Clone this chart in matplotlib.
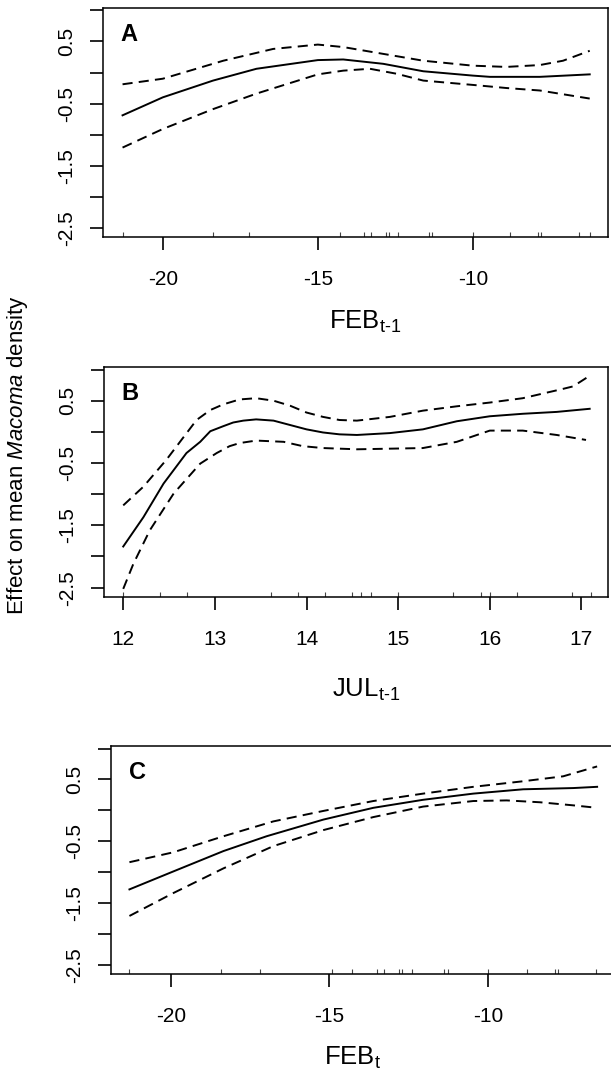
import numpy as np
import matplotlib
matplotlib.use('Agg')
import matplotlib.pyplot as plt

plt.rcParams['font.family'] = ['Liberation Sans', 'DejaVu Sans']
plt.rcParams['mathtext.fontset'] = 'custom'
plt.rcParams['mathtext.rm'] = 'Liberation Sans'
plt.rcParams['mathtext.it'] = 'Liberation Sans:italic'
plt.rcParams['axes.unicode_minus'] = False

# ====== Panel A: FEB t-1 ======
a_x = [-21.3, -20.0, -18.38, -16.98, -15.0, -14.18, -12.89, -11.6, -10.0, -9.45, -7.84, -6.23]
a_fit = [-0.69, -0.40, -0.13, 0.06, 0.20, 0.21, 0.14, 0.02, -0.05, -0.07, -0.07, -0.03]
a_up_x = [-21.3, -20.0, -18.05, -16.44, -15.0, -14.18, -12.89, -11.6, -10.0, -8.92, -7.84, -7.09, -6.23]
a_up = [-0.19, -0.10, 0.19, 0.38, 0.45, 0.41, 0.30, 0.19, 0.11, 0.09, 0.12, 0.19, 0.35]
a_lo_x = [-21.3, -20.0, -18.38, -16.98, -15.0, -14.18, -13.32, -12.46, -11.6, -10.0, -8.92, -7.84, -6.23]
a_lo = [-1.21, -0.91, -0.59, -0.34, -0.03, 0.03, 0.06, -0.02, -0.13, -0.20, -0.25, -0.29, -0.42]
a_rug = [-21.29, -18.37, -17.21, -14.30, -13.50, -13.29, -12.80, -12.71, -12.42,
         -11.40, -11.31, -10.0, -8.80, -7.90, -7.81, -6.59, -6.22]

# ====== Panel B: JUL t-1 ======
b_x = [12.0, 12.22, 12.44, 12.69, 12.84, 12.95, 13.09, 13.2, 13.31, 13.45, 13.64, 13.82,
       14.0, 14.18, 14.36, 14.55, 14.91, 15.27, 15.64, 16.0, 16.36, 16.73, 17.09]
b_fit = [-1.84, -1.37, -0.83, -0.34, -0.16, 0.01, 0.09, 0.15, 0.18, 0.20, 0.18, 0.11,
         0.04, -0.01, -0.04, -0.05, -0.02, 0.04, 0.17, 0.25, 0.29, 0.32, 0.37]
b_up_x = [12.0, 12.22, 12.47, 12.8, 12.95, 13.09, 13.27, 13.45, 13.64, 13.82, 14.0, 14.18,
          14.36, 14.55, 14.91, 15.27, 15.64, 16.0, 16.36, 16.8, 16.91, 17.09]
b_up = [-1.18, -0.88, -0.45, 0.19, 0.35, 0.44, 0.52, 0.54, 0.50, 0.42, 0.31, 0.24,
        0.19, 0.18, 0.24, 0.34, 0.41, 0.47, 0.54, 0.69, 0.73, 0.90]
b_lo_x = [12.0, 12.11, 12.29, 12.55, 12.84, 13.02, 13.16, 13.27, 13.45, 13.75, 13.96,
          14.18, 14.55, 15.27, 15.64, 16.0, 16.36, 16.73, 17.05]
b_lo = [-2.52, -2.12, -1.58, -0.99, -0.51, -0.34, -0.23, -0.18, -0.14, -0.16, -0.23,
        -0.26, -0.28, -0.26, -0.16, 0.02, 0.02, -0.05, -0.13]
b_rug = [12.0, 12.40, 12.70, 13.61, 13.91, 14.20, 14.50, 14.60, 14.70, 15.0,
         15.60, 15.90, 16.0, 16.30, 16.90, 17.10]

# ====== Panel C: FEB t ======
c_x = [-21.3, -19.92, -18.34, -16.98, -15.19, -13.62, -12.05, -10.47, -8.90, -7.32, -6.57]
c_fit = [-1.28, -0.99, -0.66, -0.42, -0.15, 0.04, 0.17, 0.27, 0.34, 0.36, 0.38]
c_up_x = [-21.3, -19.92, -18.34, -16.77, -15.19, -13.62, -12.05, -10.47, -8.90, -7.64, -6.57]
c_up = [-0.84, -0.68, -0.42, -0.18, -0.01, 0.15, 0.27, 0.38, 0.47, 0.55, 0.71]
c_lo_x = [-21.3, -19.92, -18.34, -16.77, -15.19, -13.62, -12.05, -10.47, -9.42, -8.37, -7.32, -6.57]
c_lo = [-1.71, -1.34, -0.94, -0.58, -0.32, -0.11, 0.06, 0.15, 0.16, 0.13, 0.08, 0.04]
c_rug = [-21.30, -18.42, -17.19, -14.91, -14.30, -13.51, -13.28, -12.81, -12.71,
         -12.39, -11.39, -11.28, -10.0, -8.79, -7.90, -7.80, -6.59]

y_ticks = np.arange(-2.5, 1.01, 0.5)
y_labels = ['-2.5', '', '-1.5', '', '-0.5', '', '0.5', '']

# label, axes rect, xlim, xticks, data..., xlabel, xlabel position (axes fraction)
panels = [
    ('A', [0.1686, 0.780, 0.8265, 0.2126], (-21.93, -5.64), [-20, -15, -10],
     a_x, a_fit, a_up_x, a_up, a_lo_x, a_lo, a_rug, r'FEB$_{\text{t-1}}$', (0.52, -0.315)),
    ('B', [0.1702, 0.4457, 0.8249, 0.2135], (11.79, 17.29), [12, 13, 14, 15, 16, 17],
     b_x, b_fit, b_up_x, b_up, b_lo_x, b_lo, b_rug, r'JUL$_{\text{t-1}}$', (0.52, -0.345)),
    ('C', [0.1817, 0.0956, 0.8330, 0.2117], (-21.88, -5.85), [-20, -15, -10],
     c_x, c_fit, c_up_x, c_up, c_lo_x, c_lo, c_rug, r'FEB$_{\text{t}}$', (0.474, -0.31)),
]

fig = plt.figure(figsize=(6.11, 10.77), dpi=100)

for (lab, pos, xlim, xt, fx, fy, ux, uy, lx, ly, rug, xlabel, xlc) in panels:
    ax = fig.add_axes(pos)
    ax.plot(fx, fy, color='k', lw=1.4)
    ax.plot(ux, uy, color='k', lw=1.4, linestyle=(0, (5.2, 3.2)))
    ax.plot(lx, ly, color='k', lw=1.4, linestyle=(0, (5.2, 3.2)))
    # rug
    ax.vlines(rug, 0, 0.022, transform=ax.get_xaxis_transform(), color='#444444', lw=0.8)
    ax.set_xlim(*xlim)
    ax.set_ylim(-2.65, 1.04)
    ax.set_xticks(xt)
    ax.set_yticks(y_ticks)
    ax.set_yticklabels(y_labels, rotation=90, va='center')
    ax.tick_params(axis='both', direction='out', length=9.5, width=1.2, labelsize=15)
    ax.tick_params(axis='x', pad=14)
    ax.tick_params(axis='y', pad=10)
    for s in ax.spines.values():
        s.set_linewidth(1.1)
    ax.text(0.035, 0.935, lab, transform=ax.transAxes, fontsize=17, fontweight='bold',
            ha='left', va='top')
    ax.set_xlabel(xlabel, fontsize=18.5)
    ax.xaxis.set_label_coords(*xlc)

fig.text(0.029, 0.577, r'Effect on mean $\mathit{Macoma}$ density', rotation=90,
         ha='center', va='center', fontsize=16)

plt.savefig('out.png', dpi=100)
